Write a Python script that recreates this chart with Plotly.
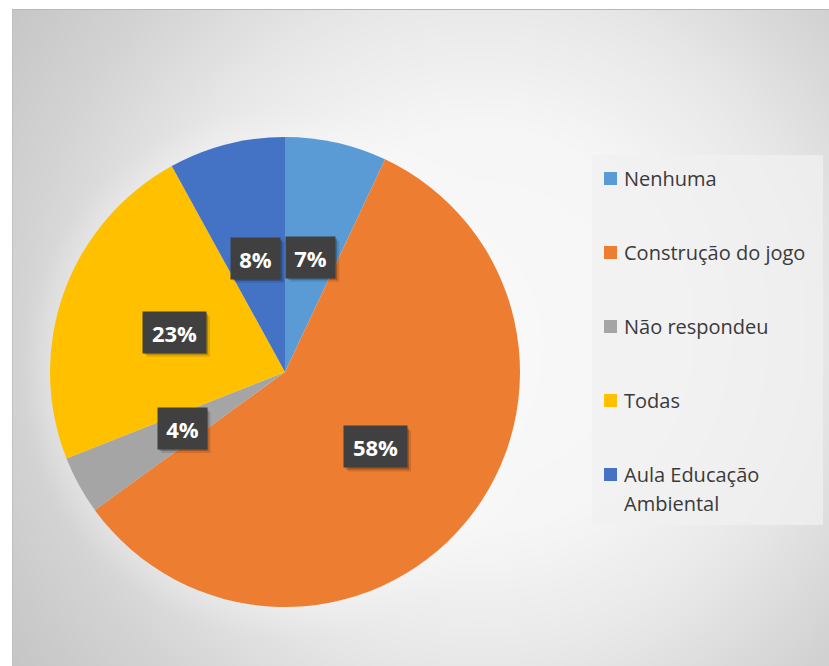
import textwrap
import numpy as np
import plotly.graph_objects as go

# Survey answers and their shares (%)
categories = ["Nenhuma", "Construção do jogo", "Não respondeu", "Todas", "Aula Educação Ambiental"]
values = [7, 58, 4, 23, 8]
colors = ["#5B9BD5", "#ED7D31", "#A5A5A5", "#FFC000", "#4472C4"]

W, H = 829, 666
FONT = "Open Sans"


def px(x):
    return x / W


def py(y):
    return 1 - y / H


# ---- soft radial backdrop drawn as a smoothed heatmap ----
gx = np.linspace(12, W, 110)
gy = np.linspace(9, H, 90)
XX, YY = np.meshgrid(gx, gy)
dist = np.hypot(XX - 480, YY - 330)
shade = np.interp(dist, [0, 200, 330, 460, 560, 700], [248, 246, 232, 211, 199, 189])
# faint light halo round the pie
pcx, pcy, pr = 285, 372, 235
dp = np.hypot(XX - pcx, YY - pcy)
halo = np.clip(1 - (dp - pr) / 30, 0, 1) * (dp > pr - 5)
shade = shade + (250 - shade) * 0.25 * halo

fig = go.Figure()
fig.add_trace(go.Heatmap(
    x=gx, y=gy, z=shade, zmin=0, zmax=255,
    colorscale=[[0, "rgb(0,0,0)"], [1, "rgb(255,255,255)"]],
    zsmooth="best", showscale=False, hoverinfo="skip",
    xaxis="x", yaxis="y",
))

fig.add_trace(go.Pie(
    labels=categories, values=values,
    marker=dict(colors=colors, line=dict(width=0)),
    sort=False, direction="clockwise", rotation=0,
    textinfo="none", showlegend=False,
    domain=dict(x=[px(50), px(520)], y=[py(608), py(136)]),
))

shapes = []
annotations = []

# ---- percentage labels in dark boxes ----
total = sum(values)
start = 0.0
for v in values:
    mid = (start + v / 2) / total * 2 * np.pi
    start += v
    lx = pcx + 0.5 * pr * np.sin(mid)
    ly = pcy - 0.5 * pr * np.cos(mid)
    txt = f"{v}%"
    bw = 35 + 14 * len(str(v))
    bh = 41
    for off, a in [(4, 0.12), (2, 0.22)]:
        shapes.append(dict(
            type="rect", xref="paper", yref="paper", layer="above",
            x0=px(lx - bw / 2 + off), x1=px(lx + bw / 2 + off),
            y0=py(ly + bh / 2 + off), y1=py(ly - bh / 2 + off),
            fillcolor=f"rgba(0,0,0,{a})", line=dict(width=0),
        ))
    annotations.append(dict(
        x=px(lx), y=py(ly), xref="paper", yref="paper",
        text=f"<b>{txt}</b>", showarrow=False,
        font=dict(family=FONT, size=22, color="white"),
        bgcolor="#404040", width=bw, height=bh, borderpad=0,
        xanchor="center", yanchor="middle",
    ))

# ---- legend ----
shapes.append(dict(
    type="rect", xref="paper", yref="paper", layer="above",
    x0=px(592), x1=px(823), y0=py(525), y1=py(155),
    fillcolor="rgba(240,240,240,0.75)", line=dict(width=0),
))
for i, (lab, col) in enumerate(zip(categories, colors)):
    yc = 178.5 + i * 74
    shapes.append(dict(
        type="rect", xref="paper", yref="paper", layer="above",
        x0=px(604), x1=px(617), y0=py(yc + 6.5), y1=py(yc - 6.5),
        fillcolor=col, line=dict(width=0),
    ))
    for j, line in enumerate(textwrap.wrap(lab, 18)):
        annotations.append(dict(
            x=px(622), y=py(yc + j * 29), xref="paper", yref="paper",
            text=line, showarrow=False, xanchor="left", yanchor="middle",
            font=dict(family=FONT, size=20, color="#3a3a3a"),
        ))

# thin frame edges
shapes.append(dict(type="line", xref="paper", yref="paper", layer="above",
                   x0=px(12), x1=1, y0=py(9.5), y1=py(9.5),
                   line=dict(color="#b8b8b8", width=1)))
shapes.append(dict(type="line", xref="paper", yref="paper", layer="above",
                   x0=px(12.5), x1=px(12.5), y0=0, y1=py(9),
                   line=dict(color="#c0c0c0", width=1)))

fig.update_layout(
    width=W, height=H,
    margin=dict(l=0, r=0, t=0, b=0),
    paper_bgcolor="white", plot_bgcolor="rgba(0,0,0,0)",
    xaxis=dict(domain=[px(12), 1], range=[12, W], visible=False, fixedrange=True),
    yaxis=dict(domain=[0, py(9)], range=[H, 9], visible=False, fixedrange=True),
    shapes=shapes, annotations=annotations,
    showlegend=False,
)

fig.write_html("out.html")
